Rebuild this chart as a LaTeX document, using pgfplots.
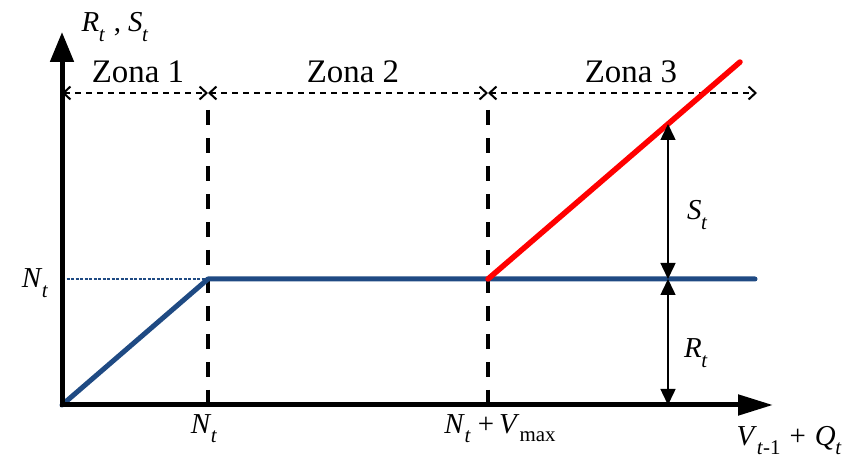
\documentclass[border=0pt]{standalone}
\usepackage{pgfplots}
\pgfplotsset{compat=1.18}
\usepackage{fontspec}
\setmainfont{Liberation Serif}
\usetikzlibrary{arrows.meta}
\definecolor{levelblue}{HTML}{1F4A83}
\definecolor{spillred}{HTML}{FF0000}

% variable with italic subscript
\newcommand{\subsz}{\fontsize{21}{21}\selectfont}
\newcommand{\var}[2]{\textit{#1}\kern-0.5bp\raisebox{-0.34em}{\subsz\textit{#2}}}
\tikzset{lab/.style={font=\fontsize{29}{31}\selectfont, inner sep=0pt},
         zona/.style={font=\fontsize{33}{36}\selectfont, inner sep=0pt, anchor=base}}

\begin{document}
\begin{tikzpicture}
\begin{axis}[
  scale only axis, width=853bp, height=463bp,
  xmin=-62, xmax=791, ymin=-58, ymax=405,
  hide axis, clip=false,
]
% frame of the page
\addplot[draw=none] coordinates {(-62,-58) (791,405)};

% operating zones (dashed vertical limits)
\addplot[black, line width=3.5bp, dash pattern=on 15bp off 13bp]
  coordinates {(146,295) (146,0)};
\addplot[black, line width=3.5bp, dash pattern=on 15bp off 13bp]
  coordinates {(426,295) (426,0)};

% zone extents
\tikzset{zonearrow/.style={black, line width=2bp, dash pattern=on 6bp off 5bp,
  {Straight Barb[length=7bp,width=13bp,line width=2bp]}-{Straight Barb[length=7bp,width=13bp,line width=2bp]}}}
\addplot[zonearrow] coordinates {(0,312) (146,312)};
\addplot[zonearrow] coordinates {(146,312) (426,312)};
\addplot[zonearrow] coordinates {(426,312) (695,312)};
\node[zona] at (axis cs:76,322) {Zona 1};
\node[zona] at (axis cs:291,322) {Zona 2};
\node[zona] at (axis cs:569,322) {Zona 3};

% reference level N_t
\addplot[levelblue, line width=2bp, dash pattern=on 3bp off 1.5bp]
  coordinates {(0,126) (146,126)};

% release R_t
\addplot[levelblue, line width=5bp, line cap=round, line join=round]
  coordinates {(0,0) (146,126) (693,126)};

% spill S_t
\addplot[spillred, line width=5.5bp, line cap=round]
  coordinates {(426,126) (678,343)};

% axes
\addplot[black, line width=5bp, -{Triangle[length=35bp,width=20bp]}]
  coordinates {(-2,0) (711,0)};
\addplot[black, line width=5bp, -{Triangle[length=30bp,width=23bp]}]
  coordinates {(0,-2.5) (0,373)};

% magnitude arrows
\addplot[black, line width=1.5bp, {Triangle[length=16bp,width=15bp]}-{Triangle[length=16bp,width=15bp]}]
  coordinates {(606,0) (606,126)};
\addplot[black, line width=1.5bp, {Triangle[length=16bp,width=15bp]}-{Triangle[length=16bp,width=15bp]}]
  coordinates {(606,126) (606,281)};

% labels
\node[lab, anchor=base west] at (axis cs:625,185) {\var{S}{t}};
\node[lab, anchor=base west] at (axis cs:622,47) {\var{R}{t}};
\node[lab, anchor=base] at (axis cs:-27,117) {\var{N}{t}};
\node[lab, anchor=base] at (axis cs:142,-28) {\var{N}{t}};
\node[lab, anchor=base] at (axis cs:438,-28) {\var{N}{t}\hspace{7bp}+\hspace{5bp}\textit{V}\raisebox{-0.3em}{\subsz max}};
\node[lab, anchor=base] at (axis cs:727,-40) {\textit{V}\raisebox{-0.34em}{\subsz\textit{t}-1}\hspace{9bp}+\hspace{9bp}\var{Q}{t}};
\node[lab, anchor=base] at (axis cs:53,373) {\var{R}{t}\hspace{9bp},\hspace{7bp}\var{S}{t}};
\end{axis}
\end{tikzpicture}
\end{document}
